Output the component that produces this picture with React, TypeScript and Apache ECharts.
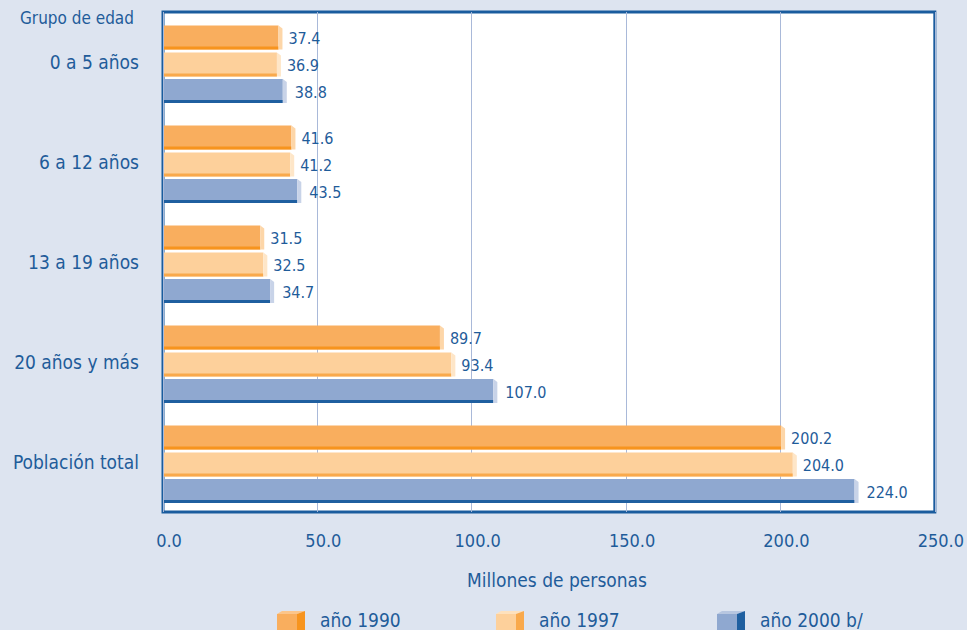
import React, { useEffect, useRef } from "react";
import * as echarts from "echarts";

const categories = ["0 a 5 años", "6 a 12 años", "13 a 19 años", "20 años y más", "Población total"];
const seriesNames = ["año 1990", "año 1997", "año 2000 b/"];
const values1990 = [37.4, 41.6, 31.5, 89.7, 200.2];
const values1997 = [36.9, 41.2, 32.5, 93.4, 204.0];
const values2000 = [38.8, 43.5, 34.7, 107.0, 224.0];
const xTicks = { min: 0, max: 250, interval: 50 };
const axisTitle = "Millones de personas";
const groupTitle = "Grupo de edad";

const TEXT = "#1f5c9a";
const FONT = "DejaVu Sans Condensed";
const palettes = [
  { main: "#f9ae5e", dark: "#f7941e", light: "#fdd6a8", top: "#fcc58a" },
  { main: "#fdd09b", dark: "#f9a94c", light: "#fee6c8", top: "#fee1bd" },
  { main: "#8fa8d0", dark: "#1f5fa0", light: "#c8d3e8", top: "#b7c6e0" },
];
const offsets = [-0.245, 0.025, 0.29];

export default function App() {
  const ref = useRef<HTMLDivElement>(null);
  useEffect(() => {
    const chart = echarts.init(ref.current!, null, { renderer: "svg" });
    const allValues = [values1990, values1997, values2000];
    const series = allValues.map((vals, k) => ({
      type: "custom",
      name: seriesNames[k],
      encode: { x: 0, y: 1 },
      data: vals.map((v, i) => [v, i]),
      renderItem: (params: any, api: any) => {
        const val = api.value(0);
        const idx = api.value(1);
        const s = api.coord([0, idx]);
        const e = api.coord([val, idx]);
        const band = api.size([0, 1])[1];
        const h = band * 0.24;
        const cy = s[1] + offsets[k] * band;
        const top = cy - h / 2;
        const x0 = s[0] + 1;
        const xe = e[0];
        const p = palettes[k];
        return {
          type: "group",
          children: [
            { type: "rect", shape: { x: x0, y: top, width: xe - x0, height: h }, style: { fill: p.main } },
            { type: "rect", shape: { x: x0, y: top + h - 3, width: xe - x0, height: 3 }, style: { fill: p.dark } },
            {
              type: "polygon",
              shape: { points: [[xe, top], [xe + 4, top + 3], [xe + 4, top + h], [xe, top + h]] },
              style: { fill: p.light },
            },
            {
              type: "text",
              style: {
                x: xe + (k === 2 ? 12 : 10),
                y: cy + 1,
                text: val.toFixed(1),
                fill: TEXT,
                fontSize: 16,
                fontFamily: FONT,
                verticalAlign: "middle",
                align: "left",
              },
            },
          ],
        };
      },
    }));

    const legendX = [277, 496, 717];
    const legendGraphics: any[] = [];
    seriesNames.forEach((n, k) => {
      const x = legendX[k];
      const p = palettes[k];
      const y = 611;
      legendGraphics.push(
        { type: "polygon", shape: { points: [[x, y + 3], [x + 5, y], [x + 28, y], [x + 20, y + 3]] }, style: { fill: p.top } },
        { type: "rect", shape: { x: x, y: y + 3, width: 20, height: 20 }, style: { fill: p.main } },
        { type: "polygon", shape: { points: [[x + 20, y + 3], [x + 28, y], [x + 28, y + 20], [x + 20, y + 23]] }, style: { fill: p.dark } },
        {
          type: "text",
          x: x + 43,
          y: 620,
          style: { text: n, fill: TEXT, fontSize: 19, fontFamily: FONT, verticalAlign: "middle" },
        }
      );
    });

    chart.setOption({
      animation: false,
      backgroundColor: "#dde4f0",
      grid: {
        left: 163,
        right: 32,
        top: 12,
        bottom: 118,
        show: true,
        backgroundColor: "#ffffff",
        borderColor: "#1a5c9e",
        borderWidth: 3,
      },
      xAxis: {
        type: "value",
        min: xTicks.min,
        max: xTicks.max,
        interval: xTicks.interval,
        axisLine: { show: false },
        axisTick: { show: false },
        splitLine: { show: true, lineStyle: { color: "#a9b9d9", width: 1 } },
        axisLabel: {
          formatter: (v: number) => v.toFixed(1),
          color: TEXT,
          fontSize: 18,
          fontFamily: FONT,
          margin: 19,
          padding: [0, 0, 0, 12],
        },
      },
      yAxis: {
        type: "category",
        data: categories,
        inverse: true,
        axisLine: { show: false },
        axisTick: { show: false },
        splitLine: { show: false },
        axisLabel: { color: TEXT, fontSize: 19, fontFamily: FONT, margin: 24 },
      },
      series,
      graphic: [
        {
          type: "text",
          x: 20,
          y: 18,
          style: { text: groupTitle, fill: TEXT, fontSize: 17, fontFamily: FONT, verticalAlign: "middle" },
        },
        {
          type: "text",
          x: 557,
          y: 580,
          style: { text: axisTitle, fill: TEXT, fontSize: 19, fontFamily: FONT, verticalAlign: "middle", align: "center" },
        },
        ...legendGraphics,
      ],
    });
    return () => chart.dispose();
  }, []);
  return <div ref={ref} style={{ width: 967, height: 630, position: "absolute", left: 0, top: 0 }} />;
}
